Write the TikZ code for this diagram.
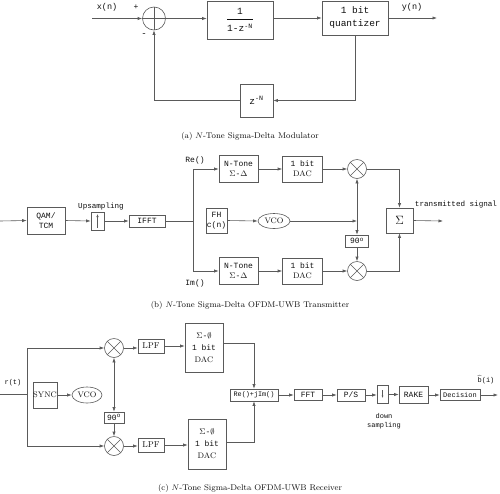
\documentclass[tikz,border=0pt]{standalone}
\usepackage{amsmath,amssymb}
\usepackage{fontspec}
\setmonofont{Liberation Mono}
\usetikzlibrary{shapes.geometric, arrows.meta, positioning, calc}
\definecolor{wireGray}{RGB}{90,90,90}
\definecolor{inkGray}{RGB}{15,15,15}

\begin{document}
\begin{tikzpicture}[
  x=1pt, y=-1pt,
  blk/.style 2 args={
    rectangle, draw=wireGray, line width=0.6pt,
    minimum width=#1pt, minimum height=#2pt, inner sep=0pt,
    font=\fontsize{8}{10}\selectfont\ttfamily, text=inkGray, align=center
  },
  osc/.style 2 args={
    ellipse, draw=wireGray, line width=0.6pt,
    minimum width=#1pt, minimum height=#2pt, inner sep=0pt,
    font=\fontsize{8}{10}\selectfont\rmfamily, text=inkGray
  },
  mix/.style={
    circle, draw=wireGray, line width=0.6pt, minimum size=19pt, inner sep=0pt,
    path picture={\draw[wireGray, line width=0.6pt]
      (path picture bounding box.north west) -- (path picture bounding box.south east)
      (path picture bounding box.north east) -- (path picture bounding box.south west);}
  },
  adder/.style={
    circle, draw=wireGray, line width=0.6pt, minimum size=23pt, inner sep=0pt,
    path picture={\draw[wireGray, line width=0.6pt]
      (path picture bounding box.north) -- (path picture bounding box.south)
      (path picture bounding box.west) -- (path picture bounding box.east);}
  },
  uparr/.style={path picture={\draw[-{Latex[length=3pt,width=2.5pt]}, wireGray]
      ([yshift=2pt]path picture bounding box.south) -- ([yshift=-2pt]path picture bounding box.north);}},
  dnarr/.style={path picture={\draw[-{Latex[length=2.5pt,width=2pt]}, wireGray]
      ([yshift=4pt]path picture bounding box.center) -- ([yshift=-4pt]path picture bounding box.center);}},
  wire/.style={draw=wireGray, line width=0.6pt},
  arr/.style={-{Latex[length=4.5pt,width=3.2pt]}, draw=wireGray, line width=0.6pt},
  lbl/.style={font=\fontsize{8}{10}\selectfont\ttfamily, text=inkGray, inner sep=0pt, align=center},
  subcap/.style={font=\fontsize{8.3}{10}\selectfont, text=inkGray, inner sep=0pt}
]
  \useasboundingbox (0,0) rectangle (500,493);

  % (a) modulator
  \node[adder] (S) at (154,18.5) {};
  \node[blk={66}{38}, font=\fontsize{9.5}{11}\selectfont\ttfamily] (H) at (240,20)
    {$\dfrac{\text{\ttfamily 1}\rule[-4pt]{0pt}{10pt}}{\rule{0pt}{11pt}\text{\ttfamily 1-z\textsuperscript{-N}}}$};
  \node[blk={66}{34}, font=\fontsize{9.5}{13}\selectfont\ttfamily] (Q) at (355,18) {1 bit\\quantizer};
  \node[blk={33}{33}, font=\fontsize{9.5}{11}\selectfont\ttfamily] (Z) at (256.5,100.5) {z\textsuperscript{-N}};
  \coordinate (xin) at (92,18.5);
  \coordinate (yout) at (437,18);
  \node[lbl, font=\fontsize{8.5}{10}\selectfont\ttfamily] (xl) at (107,7) {x(n)};
  \node[lbl, font=\fontsize{8.5}{10}\selectfont\ttfamily] (yl) at (412,7) {y(n)};
  \node[lbl] (pl) at (136,7) {+};
  \node[lbl, font=\fontsize{9}{10}\selectfont\ttfamily] (ml) at (144,35) {-};

  \draw[arr] (xin) -- (S.west);
  \draw[arr] (S.east) -- (H.west |- S.east);
  \draw[arr] (H.east |- Q.west) -- (Q.west);
  \draw[arr] (Q.east) -- (yout);
  \draw[arr] (Q.south) |- (Z.east);
  \draw[arr] (Z.west) -| (S.south);

  \node[subcap] (ca) at (250,136) {(a) $N$-Tone Sigma-Delta Modulator};

  % (b) transmitter
  \coordinate (bin) at (0,221);
  \node[blk={38}{27}] (QAM) at (46,220.5) {QAM/\\TCM};
  \node[blk={13}{18}, uparr] (UP) at (97.5,221) {};
  \node[lbl, font=\fontsize{7.6}{9}\selectfont\ttfamily] (upl) at (101,207) {Upsampling};
  \node[blk={36}{12}] (IF) at (147,221) {IFFT};
  \coordinate (sp) at (193,221);
  \node[blk={39}{27}] (NTa) at (238.5,169) {N-Tone\\$\Sigma$-$\Delta$};
  \node[blk={39}{27}] (NTb) at (238.5,271) {N-Tone\\$\Sigma$-$\Delta$};
  \node[blk={40}{26}] (DAa) at (302.5,169) {1 bit\\{\rmfamily DAC}};
  \node[blk={40}{26}] (DAb) at (302.5,271) {1 bit\\{\rmfamily DAC}};
  \node[mix] (Ma) at (357,169) {};
  \node[mix] (Mb) at (357,271) {};
  \node[blk={21}{25}] (FH) at (216.5,220.5) {FH\\c(n)};
  \node[osc={32}{15}] (VC) at (274,221) {VCO};
  \node[blk={23}{12}] (P9) at (357,241) {90\textsuperscript{o}};
  \node[blk={27}{25}, font=\large] (SG) at (399.5,220.5) {$\Sigma$};
  \coordinate (lo) at (357,221);
  \coordinate (tx) at (443,221);
  \node[lbl] (rel) at (195,160) {Re()};
  \node[lbl] (iml) at (195,283) {Im()};
  \node[lbl, font=\fontsize{7.6}{9}\selectfont\ttfamily] (txl) at (456,205) {transmitted signal};

  \draw[arr] (bin) -- (QAM.west);
  \draw[arr] (QAM.east) -- (UP.west);
  \draw[arr] (UP.east) -- (IF.west);
  \draw[wire] (IF.east) -- (sp);
  \draw[arr] (sp) |- (NTa.west);
  \draw[arr] (sp) |- (NTb.west);
  \draw[arr] (NTa.east) -- (DAa.west);
  \draw[arr] (NTb.east) -- (DAb.west);
  \draw[arr] (DAa.east) -- (Ma.west);
  \draw[arr] (DAb.east) -- (Mb.west);
  \draw[arr] (FH.east) -- (VC.west);
  \draw[arr] (VC.east) -- (lo);
  \draw[arr] (lo) -- (Ma.south);
  \draw[arr] (lo) -- (P9.north);
  \draw[arr] (P9.south) -- (Mb.north);
  \draw[arr] (Ma.east) -| (SG.north);
  \draw[arr] (Mb.east) -| (SG.south);
  \draw[arr] (SG.east) -- (tx);

  \node[subcap] (cb) at (250,305) {(b) $N$-Tone Sigma-Delta OFDM-UWB Transmitter};

  % (c) receiver
  \coordinate (rin) at (0,394);
  \coordinate (rs) at (27,394);
  \node[lbl, font=\fontsize{7}{9}\selectfont\ttfamily] (rl) at (13,383) {r(t)};
  \node[mix] (Mc) at (114,348) {};
  \node[mix] (Md) at (114,446) {};
  \node[blk={24}{26}, font=\fontsize{8}{10}\selectfont\rmfamily] (SY) at (45,395) {SYNC};
  \node[osc={30}{16}] (VR) at (87,395) {VCO};
  \node[blk={20}{11}] (Q9) at (114,417.5) {90\textsuperscript{o}};
  \node[blk={26}{14}, font=\fontsize{8.5}{10}\selectfont\rmfamily] (La) at (151,346) {LPF};
  \node[blk={26}{14}, font=\fontsize{8.5}{10}\selectfont\rmfamily] (Lb) at (151,445) {LPF};
  \node[blk={38}{49}, font=\fontsize{8}{12}\selectfont\ttfamily] (Da) at (204,347.5) {$\Sigma$-$\emptyset$\\1 bit\\{\rmfamily DAC}};
  \node[blk={38}{50}, font=\fontsize{8}{12}\selectfont\ttfamily] (Db) at (207,444) {$\Sigma$-$\emptyset$\\1 bit\\{\rmfamily DAC}};
  \node[blk={48}{12}, font=\fontsize{6.8}{8}\selectfont\ttfamily] (RI) at (254,395) {Re()+jIm()};
  \node[blk={28}{11}] (FF) at (308,395) {FFT};
  \node[blk={28}{12}] (PS) at (351,395) {P/S};
  \node[blk={11}{18}, dnarr] (DS) at (382.5,394) {};
  \node[lbl, font=\fontsize{7}{9}\selectfont\ttfamily] (dsl) at (384,421) {down\\sampling};
  \node[blk={29}{17}] (RK) at (413.5,394.5) {RAKE};
  \node[blk={40}{11}, font=\fontsize{7}{9}\selectfont\ttfamily] (DC) at (460,395) {Decision};
  \coordinate (rout) at (498,395);
  \node[lbl, font=\fontsize{7}{9}\selectfont\ttfamily] (bl) at (486,380) {$\widehat{\mbox{\ttfamily b}}$(i)};

  \draw[wire] (rin) -- (rs);
  \draw[arr] (rs) |- (Mc.west);
  \draw[arr] (rs) |- (Md.west);
  \draw[arr] (SY.east) -- (VR.west);
  \draw[arr] ($(Mc.south)!0.5!(Q9.north)$) -- (Mc.south);
  \draw[arr] ($(Mc.south)!0.5!(Q9.north)$) -- (Q9.north);
  \draw[arr] (Q9.south) -- (Md.north);
  \draw[arr] (Mc.east) -- (La.west |- Mc.east);
  \draw[arr] (Md.east) -- (Lb.west |- Md.east);
  \draw[arr] (La.east) -- (Da.west |- La.east);
  \draw[arr] (Lb.east) -- (Db.west |- Lb.east);
  \draw[arr] ([yshift=4pt]Da.east) -| (RI.north);
  \draw[arr] ([yshift=2pt]Db.east) -| (RI.south);
  \draw[arr] (RI.east) -- (FF.west);
  \draw[arr] (FF.east) -- (PS.west);
  \draw[arr] (PS.east) -- (DS.west |- PS.east);
  \draw[arr] (DS.east |- RK.west) -- (RK.west);
  \draw[arr] (RK.east |- DC.west) -- (DC.west);
  \draw[arr] (DC.east) -- (rout);

  \node[subcap] (cc) at (250,488) {(c) $N$-Tone Sigma-Delta OFDM-UWB Receiver};
\end{tikzpicture}
\end{document}
